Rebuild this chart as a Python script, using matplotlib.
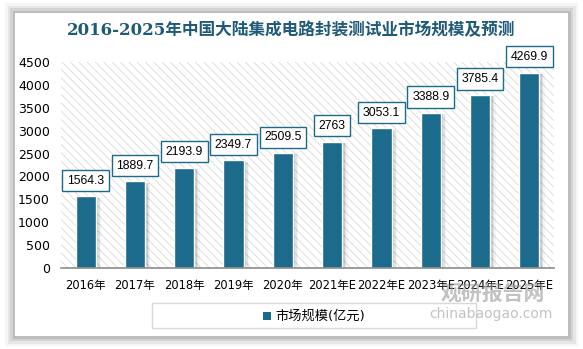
import matplotlib
matplotlib.use("Agg")
import matplotlib.pyplot as plt
from matplotlib.patches import Rectangle

plt.rcParams["font.family"] = ["DejaVu Sans", "Noto Sans CJK SC"]
plt.rcParams["hatch.linewidth"] = 0.6

years = ["2016年", "2017年", "2018年", "2019年", "2020年",
         "2021年E", "2022年E", "2023年E", "2024年E", "2025年E"]
market_size = [1564.3, 1889.7, 2193.9, 2349.7, 2509.5,
               2763, 3053.1, 3388.9, 3785.4, 4269.9]
value_labels = ["1564.3", "1889.7", "2193.9", "2349.7", "2509.5",
                "2763", "3053.1", "3388.9", "3785.4", "4269.9"]

BAR_COLOR = "#1c6a8c"
TITLE_COLOR = "#1f5a78"
W, H = 583, 349


def fx(px):
    return px / W


def fy(py):
    return 1 - py / H


fig = plt.figure(figsize=(5.83, 3.49), dpi=100)

# white card with a soft grey shadow
for i, a in enumerate([0.04, 0.06, 0.08, 0.10]):
    pad = (4 - i) * 2.5
    fig.patches.append(Rectangle((fx(15 - pad), fy(336 + pad)),
                                 (553 + 2 * pad) / W, (323 + 2 * pad) / H,
                                 transform=fig.transFigure, facecolor="black",
                                 edgecolor="none", alpha=a, zorder=0))
fig.patches.append(Rectangle((fx(15), fy(336)), 553 / W, 323 / H,
                             transform=fig.transFigure, facecolor="white",
                             edgecolor="none", zorder=1))

ax = fig.add_axes([fx(61), fy(268), 493 / W, 206 / H])
ax.set_zorder(2)
ax.patch.set_alpha(0)
ax.add_patch(Rectangle((0, 0), 1, 1, transform=ax.transAxes, facecolor="white",
                       edgecolor="#d9d9d9", hatch="\\\\\\\\", linewidth=0, zorder=0))

x = list(range(len(years)))
# bar shadows
for i, v in enumerate(market_size):
    for k, a in enumerate([0.10, 0.07, 0.04]):
        ax.bar(i + 0.05 + k * 0.03, v - 15, width=0.41, bottom=-15,
               color="black", alpha=a, linewidth=0, zorder=1)
ax.bar(x, market_size, width=0.41, color=BAR_COLOR, edgecolor="white",
       linewidth=1.0, zorder=3)

for i, (v, s) in enumerate(zip(market_size, value_labels)):
    ax.annotate(s, (i, v), xytext=(0, 7), textcoords="offset points",
                ha="center", va="bottom", fontsize=8.8, color="black", zorder=5,
                family=["Liberation Sans", "DejaVu Sans"],
                bbox=dict(boxstyle="square,pad=0.38", facecolor="white",
                          edgecolor=BAR_COLOR, linewidth=1.0))

ax.set_xlim(-0.5, len(years) - 0.5)
ax.set_ylim(0, 4500)
ax.set_yticks(range(0, 4501, 500))
ax.set_xticks(x)
ax.set_xticklabels(years)
ax.tick_params(axis="both", length=0, labelsize=9, colors="black")
ax.tick_params(axis="x", labelsize=8.3, pad=8)
ax.tick_params(axis="y", pad=8)
for side in ["top", "right", "left"]:
    ax.spines[side].set_visible(False)
ax.spines["bottom"].set_color("#8c8c8c")
ax.spines["bottom"].set_linewidth(1.2)
ax.spines["bottom"].set_zorder(4)

fig.text(0.5, fy(31), "2016-2025年中国大陆集成电路封装测试业市场规模及预测",
         ha="center", va="center", fontsize=12, fontweight="bold",
         color=TITLE_COLOR, family=["DejaVu Serif", "Noto Sans CJK SC"], zorder=3)

# legend box
fig.patches.append(Rectangle((fx(152), fy(328)), 324 / W, 25 / H,
                             transform=fig.transFigure, facecolor="none",
                             edgecolor="#d9d9d9", linewidth=1.0, zorder=3))
fig.patches.append(Rectangle((fx(263), fy(320)), 8 / W, 8 / H,
                             transform=fig.transFigure, facecolor=BAR_COLOR,
                             edgecolor="none", zorder=3))
fig.text(fx(275), fy(316), "市场规模(亿元)", ha="left", va="center",
         fontsize=9.5, color="black", zorder=3)

# watermark
fig.text(fx(493), fy(294), "观研报告网", ha="center", va="center",
         fontsize=15, fontweight="bold", color="#9a9a9a", alpha=0.6, zorder=6)
fig.text(fx(491), fy(314), "chinabaogao.com", ha="center", va="center",
         fontsize=10, color="#9a9a9a", alpha=0.6, zorder=6)

fig.savefig("out.png", dpi=100)
